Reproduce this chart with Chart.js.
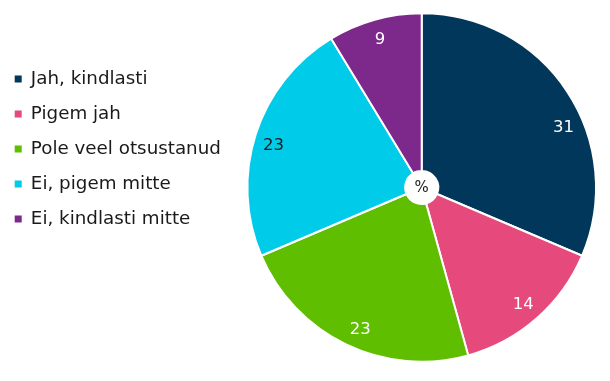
<!DOCTYPE html>
<html>
<head>
<meta charset="utf-8">
<script src="https://cdn.jsdelivr.net/npm/chart.js@4/dist/chart.umd.min.js"></script>
<style>
  html, body { margin: 0; padding: 0; background: #ffffff; }
  #wrap { width: 610px; height: 381px; position: relative; }
</style>
</head>
<body>
<div id="wrap"><canvas id="c" width="610" height="381"></canvas></div>
<script>
const categories = ['Jah, kindlasti', 'Pigem jah', 'Pole veel otsustanud', 'Ei, pigem mitte', 'Ei, kindlasti mitte'];
const values = [31.4, 14.3, 22.9, 22.7, 8.7];
const centerLabel = '%';

const sliceColors = ['#00375a', '#e6497b', '#5fbe00', '#00cbe8', '#7d288b'];
const labelColors = ['#ffffff', '#ffffff', '#ffffff', '#1a1a1a', '#ffffff'];
const FONT = '"DejaVu Sans", sans-serif';

const legendWidthPlugin = {
  id: 'legendWidth',
  beforeInit(chart) {
    const lg = chart.legend;
    const orig = lg.fit;
    lg.fit = function () {
      orig.call(this);
      this.width = 248.4;
    };
  }
};

const sliceLabels = {
  id: 'sliceLabels',
  afterDatasetsDraw(chart, args, opts) {
    const ctx = chart.ctx;
    const meta = chart.getDatasetMeta(0);
    const data = chart.data.datasets[0].data;
    ctx.save();
    ctx.textAlign = 'center';
    ctx.textBaseline = 'middle';
    ctx.font = '16.5px ' + FONT;
    let cx = 0, cy = 0;
    meta.data.forEach((arc, i) => {
      const p = arc.getProps(['x', 'y', 'startAngle', 'endAngle', 'outerRadius'], true);
      cx = p.x; cy = p.y;
      const nudge = (opts.nudge && opts.nudge[i]) || 0;
      const a = (p.startAngle + p.endAngle) / 2 + nudge;
      const r = p.outerRadius * 0.885;
      ctx.fillStyle = labelColors[i];
      ctx.fillText(String(Math.round(data[i])), p.x + Math.cos(a) * r, p.y + Math.sin(a) * r + 1);
    });
    ctx.fillStyle = '#1a1a1a';
    ctx.font = '15px ' + FONT;
    ctx.fillText(centerLabel, cx, cy + 1);
    ctx.restore();
  }
};

new Chart(document.getElementById('c'), {
  type: 'doughnut',
  data: {
    labels: categories,
    datasets: [{
      data: values,
      backgroundColor: sliceColors,
      borderColor: '#ffffff',
      borderWidth: 2,
      hoverOffset: 0
    }]
  },
  options: {
    responsive: false,
    animation: false,
    cutout: '9.5%',
    layout: { padding: { left: -2, right: 13, top: 12.2, bottom: 18.2 } },
    plugins: {
      tooltip: { enabled: false },
      sliceLabels: { nudge: [0.18, 0, -0.04, -0.03, 0] },
      legend: {
        position: 'left',
        align: 'start',
        title: { display: true, text: '', font: { size: 1 }, padding: { top: 39.8, bottom: 0 } },
        labels: {
          boxWidth: 7,
          boxHeight: 7,
          padding: 16.7,
          color: '#1a1a1a',
          font: { family: FONT, size: 18.3 },
          generateLabels(chart) {
            return Chart.overrides.doughnut.plugins.legend.labels.generateLabels(chart)
              .map(l => Object.assign({}, l, { lineWidth: 0, strokeStyle: 'rgba(0,0,0,0)' }));
          }
        }
      }
    }
  },
  plugins: [legendWidthPlugin, sliceLabels]
});
</script>
</body>
</html>
